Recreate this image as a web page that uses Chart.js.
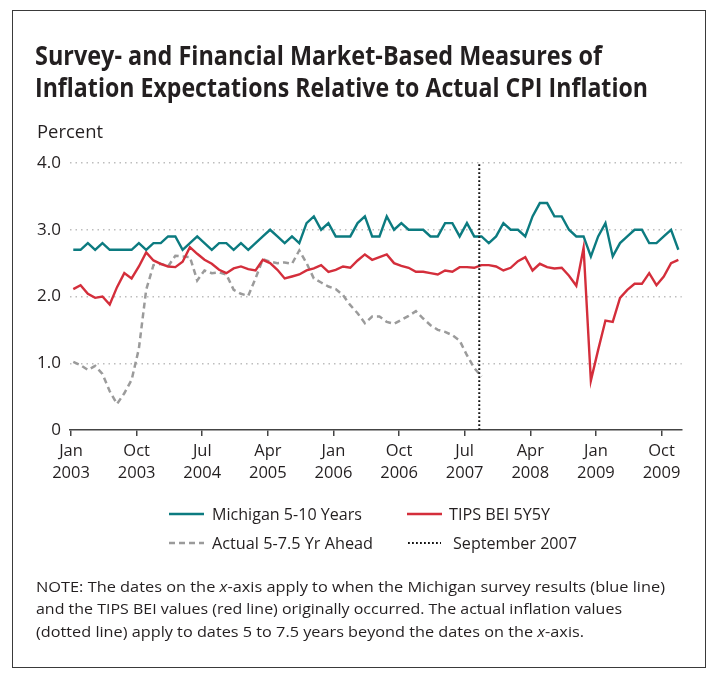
<!DOCTYPE html>
<html><head><meta charset="utf-8">
<script src="https://cdn.jsdelivr.net/npm/chart.js@4.4.1/dist/chart.umd.min.js"></script>
<style>
html,body{margin:0;padding:0;background:#fff;}
body{width:719px;height:681px;position:relative;overflow:hidden;font-family:"Open Sans",sans-serif;color:#231f20;}
#frame{position:absolute;left:12px;top:10px;width:694px;height:658px;border:1.5px solid #3a3a3a;box-sizing:border-box;}
.t{position:absolute;white-space:nowrap;transform-origin:0 0;line-height:1;}
canvas{position:absolute;left:0;top:0;}
svg.sw{position:absolute;overflow:visible;}
</style></head><body>
<canvas id="c" width="719" height="681"></canvas>
<div id="frame"></div>
<div class="t" data-w="567" style="left:35px;top:40.5px;font-size:27px;font-weight:700;">Survey- and Financial Market-Based Measures of</div>
<div class="t" data-w="613" style="left:35px;top:73px;font-size:27px;font-weight:700;">Inflation Expectations Relative to Actual CPI Inflation</div>
<div class="t" data-w="66" style="left:37px;top:122.5px;font-size:17.5px;">Percent</div>

<svg class="sw" style="left:169px;top:514px" width="35" height="1"><line x1="0" y1="0" x2="35" y2="0" stroke="#0c7b80" stroke-width="2.5"/></svg>
<div class="t" data-w="150" style="left:212px;top:505.8px;font-size:16px;">Michigan 5-10 Years</div>
<svg class="sw" style="left:407px;top:514px" width="35" height="1"><line x1="0" y1="0" x2="35" y2="0" stroke="#d42e3b" stroke-width="2.5"/></svg>
<div class="t" data-w="101" style="left:449px;top:505.8px;font-size:16px;">TIPS BEI 5Y5Y</div>
<svg class="sw" style="left:169px;top:543px" width="35" height="1"><line x1="0" y1="0" x2="35" y2="0" stroke="#9b9b9b" stroke-width="2.5" stroke-dasharray="6,4"/></svg>
<div class="t" data-w="161" style="left:212px;top:534.8px;font-size:16px;">Actual 5-7.5 Yr Ahead</div>
<svg class="sw" style="left:408px;top:543px" width="33" height="1"><line x1="0" y1="0" x2="33" y2="0" stroke="#111" stroke-width="1.8" stroke-dasharray="1.8,2.2"/></svg>
<div class="t" data-w="124" style="left:453px;top:534.8px;font-size:16px;">September 2007</div>

<div class="t" data-w="629" style="left:36px;top:578.7px;font-size:15px;">NOTE: The dates on the <i>x</i>-axis apply to when the Michigan survey results (blue line)</div>
<div class="t" data-w="586" style="left:36px;top:601.2px;font-size:15px;">and the TIPS BEI values (red line) originally occurred. The actual inflation values</div>
<div class="t" data-w="548" style="left:36px;top:623.7px;font-size:15px;">(dotted line) apply to dates 5 to 7.5 years beyond the dates on the <i>x</i>-axis.</div>

<script>
// Monthly values, Jan 2003 (index 0) to Dec 2009 (index 83)
const michigan = [2.7,2.7,2.8,2.7,2.8,2.7,2.7,2.7,2.7,2.8,2.7,2.8,
  2.8,2.9,2.9,2.7,2.8,2.9,2.8,2.7,2.8,2.8,2.7,2.8,
  2.7,2.8,2.9,3.0,2.9,2.8,2.9,2.8,3.1,3.2,3.0,3.1,
  2.9,2.9,2.9,3.1,3.2,2.9,2.9,3.2,3.0,3.1,3.0,3.0,
  3.0,2.9,2.9,3.1,3.1,2.9,3.1,2.9,2.9,2.8,2.9,3.1,
  3.0,3.0,2.9,3.2,3.4,3.4,3.2,3.2,3.0,2.9,2.9,2.6,
  2.9,3.1,2.6,2.8,2.9,3.0,3.0,2.8,2.8,2.9,3.0,2.7];
const tipsBei = [2.11,2.17,2.04,1.98,2.00,1.88,2.14,2.35,2.27,2.45,2.66,2.54,
  2.49,2.45,2.44,2.52,2.74,2.64,2.55,2.49,2.40,2.35,2.42,2.45,
  2.41,2.39,2.55,2.50,2.40,2.27,2.30,2.33,2.39,2.42,2.47,2.37,
  2.40,2.45,2.43,2.54,2.63,2.55,2.59,2.63,2.50,2.46,2.43,2.37,
  2.37,2.35,2.33,2.39,2.37,2.44,2.44,2.43,2.47,2.47,2.45,2.39,
  2.43,2.53,2.59,2.39,2.49,2.44,2.42,2.43,2.31,2.16,2.73,0.74,
  1.20,1.64,1.62,1.98,2.10,2.19,2.19,2.35,2.17,2.30,2.50,2.55];
const actualAhead = [1.02,0.97,0.90,0.96,0.84,0.58,0.39,0.55,0.75,1.22,2.10,2.47,
  2.49,2.45,2.61,2.60,2.59,2.24,2.39,2.35,2.36,2.33,2.10,2.04,
  2.01,2.27,2.56,2.52,2.50,2.51,2.49,2.69,2.50,2.27,2.21,2.15,
  2.11,2.02,1.87,1.75,1.60,1.70,1.70,1.62,1.59,1.65,1.71,1.78,
  1.67,1.57,1.50,1.47,1.42,1.34,1.12,0.93,0.80];
const tickMonths = [0,9,18,27,36,45,54,63,72,81];
const tickLabels = [['Jan','2003'],['Oct','2003'],['Jul','2004'],['Apr','2005'],['Jan','2006'],
  ['Oct','2006'],['Jul','2007'],['Apr','2008'],['Jan','2009'],['Oct','2009']];
const yTicks = [0,1,2,3,4];
const september2007 = 56;
const TICK_SHIFT = -0.31;

const pts = arr => arr.map((v,i)=>({x:i,y:v}));
const FONT = '"Open Sans", sans-serif';

new Chart(document.getElementById('c'), {
  type:'line',
  data:{datasets:[
    {label:'September 2007', data:[{x:september2007+TICK_SHIFT,y:0},{x:september2007+TICK_SHIFT,y:4}],
      borderColor:'#111', borderWidth:2, borderDash:[1.8,2.2], pointRadius:0},
    {label:'Michigan 5-10 Years', data:pts(michigan), borderColor:'#0c7b80', borderWidth:2.4, pointRadius:0, tension:0},
    {label:'TIPS BEI 5Y5Y', data:pts(tipsBei), borderColor:'#d42e3b', borderWidth:2.4, pointRadius:0, tension:0},
    {label:'Actual 5-7.5 Yr Ahead', data:pts(actualAhead), borderColor:'#9b9b9b', borderWidth:2.5, borderDash:[6,4], pointRadius:0, tension:0}
  ]},
  options:{
    responsive:false, animation:false, devicePixelRatio:1,
    layout:{padding:{left:0,right:37.3,top:163,bottom:191}},
    plugins:{legend:{display:false},tooltip:{enabled:false}},
    scales:{
      x:{type:'linear',min:-0.45,max:83.46,
        afterBuildTicks:s=>{s.ticks=tickMonths.map(m=>({value:m+TICK_SHIFT}));},
        ticks:{autoSkip:false,maxRotation:0,padding:5,color:'#231f20',
          font:{family:FONT,size:16.5,lineHeight:1.3},callback:(v,i)=>tickLabels[i]},
        grid:{drawOnChartArea:false,drawTicks:true,tickLength:6,color:'#444',lineWidth:1.5},
        border:{display:true,color:'#444',width:1.5},
        afterFit:s=>{s.height=60;}
      },
      y:{min:0,max:4,
        afterBuildTicks:s=>{s.ticks=yTicks.map(v=>({value:v}));},
        ticks:{padding:9,color:'#231f20',font:{family:FONT,size:17},
          callback:v=>v===0?'0':v.toFixed(1)},
        grid:{drawTicks:false,lineWidth:1.5,
          color:c=>(c.tick&&c.tick.value===0)?'rgba(0,0,0,0)':'#bdbdbd'},
        border:{display:false,dash:[1.5,4]},
        afterFit:s=>{s.width=70;}
      }
    }
  }
});

document.querySelectorAll('.t[data-w]').forEach(el=>{
  const w = el.getBoundingClientRect().width;
  if (w>0) el.style.transform = 'scaleX(' + (parseFloat(el.dataset.w)/w) + ')';
});
</script>
</body></html>
